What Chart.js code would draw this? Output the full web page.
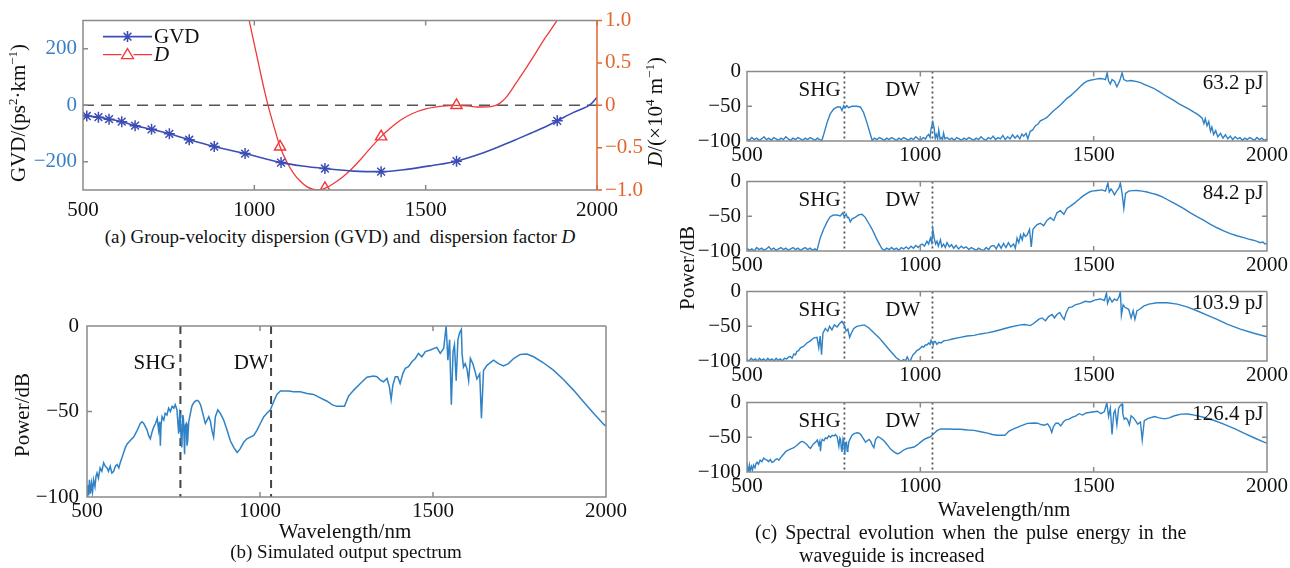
<!DOCTYPE html>
<html>
<head>
<meta charset="utf-8">
<script src="https://cdn.jsdelivr.net/npm/chart.js@4.4.1/dist/chart.umd.min.js"></script>
<style>
    body { margin: 0; width: 1290px; height: 568px; overflow: hidden; position: relative; background: #fff;
           font-family: 'Liberation Serif', 'Times New Roman', serif; color: #111; }
    canvas { position: absolute; }
    .t { position: absolute; white-space: nowrap; line-height: 1; transform: translate(-50%, -50%); }
    .r { transform: translate(-50%, -50%) rotate(-90deg); }
    .l { position: absolute; white-space: nowrap; line-height: 1; transform: translateY(-50%); }
    sup { font-size: 0.62em; vertical-align: 0.6em; line-height: 0; }
</style>
</head>
<body>
<canvas id="chartA" width="660" height="225" style="left:0;top:0"></canvas>
<canvas id="chartB" width="660" height="225" style="left:0;top:300px"></canvas>
<canvas id="chartC1" width="610" height="115" style="left:680px;top:53px"></canvas>
<canvas id="chartC2" width="610" height="115" style="left:680px;top:163px"></canvas>
<canvas id="chartC3" width="610" height="115" style="left:680px;top:273px"></canvas>
<canvas id="chartC4" width="610" height="115" style="left:680px;top:384px"></canvas>

<div class="t r" style="left:18px;top:113px;font-size:21px">GVD/(ps<sup>2</sup>·km<sup>−1</sup>)</div>
<div class="t r" style="left:655px;top:112px;font-size:21px"><i>D</i>/(×10<sup>4</sup> m<sup>−1</sup>)</div>
<div class="t" style="left:340px;top:236px;font-size:19px">(a) Group-velocity dispersion (GVD) and&nbsp; dispersion factor <i>D</i></div>

<div class="t r" style="left:22px;top:415px;font-size:21px">Power/dB</div>
<div class="t" style="left:345px;top:531px;font-size:21px">Wavelength/nm</div>
<div class="t" style="left:346px;top:551px;font-size:19px">(b) Simulated output spectrum</div>

<div class="t r" style="left:687px;top:268px;font-size:21px">Power/dB</div>
<div class="t" style="left:1004px;top:509px;font-size:21px">Wavelength/nm</div>
<div class="l" style="left:755px;top:532px;font-size:20px;word-spacing:3px">(c) Spectral evolution when the pulse energy in the</div>
<div class="l" style="left:799px;top:555px;font-size:20px">waveguide is increased</div>

<script>
// ---- data ----
const wlTicks = [500, 1000, 1500, 2000];
const gvdTicks = [-200, 0, 200];
const dTicks = [-1, -0.5, 0, 0.5, 1];
const powTicks = [-100, -50, 0];

// GVD (ps^2/km) vs wavelength (nm)
const gvdCurve = [[500,-35],[511,-38],[545,-42],[576,-49],[613,-58],[652,-72],[700,-85],[752,-101],[810,-122],
    [883,-146],[973,-171],[1078,-203],[1140,-215],[1206,-224],[1290,-233],[1370,-235],[1450,-226],[1520,-213],
    [1590,-198],[1660,-172],[1717,-145],[1770,-118],[1814,-95],[1850,-76],[1884,-55],[1930,-26],[1982,4],[2000,28]];
const gvdMarks = [[511,-38],[545,-42],[576,-49],[613,-58],[652,-72],[700,-85],[752,-101],[810,-122],[883,-146],
    [973,-171],[1078,-203],[1206,-224],[1370,-235],[1590,-198],[1884,-55]];

// D (x10^4 m^-1)
const dCurve = [[955,1.5],[975,1.18],[985,1.0],[1000,0.72],[1015,0.44],[1028,0.2],[1040,0],[1058,-0.26],[1075,-0.49],
    [1095,-0.67],[1114,-0.8],[1135,-0.9],[1153,-0.96],[1170,-0.99],[1185,-1.0],[1206,-0.98],[1240,-0.9],[1274,-0.79],
    [1310,-0.64],[1340,-0.5],[1370,-0.37],[1400,-0.26],[1425,-0.18],[1460,-0.1],[1503,-0.04],[1550,-0.01],[1590,0],
    [1630,-0.01],[1650,-0.02],[1690,-0.015],[1715,0.02],[1736,0.1],[1765,0.27],[1795,0.45],[1820,0.61],[1843,0.76],
    [1865,0.89],[1883,1.0],[1900,1.12]];
const dMarks = [[1075,-0.49],[1206,-0.98],[1370,-0.37],[1590,0]];

// spectra, dB vs nm
const spec632 = [[500,-97],[507,-99],[514,-95],[521,-98],[528,-96],[535,-99],[542,-97],[549,-94],[556,-98],[563,-96],
    [570,-99],[577,-95],[584,-97],[591,-99],[598,-96],[605,-98],[612,-94],[619,-97],[626,-99],[633,-96],[640,-98],
    [647,-95],[654,-97],[661,-99],[668,-96],[675,-98],[682,-95],[689,-97],[696,-99],[703,-96],[710,-98],[716,-99],
    [721,-91],[731,-73.5],[740,-61],[750,-54],[760,-51],[769,-51],[774,-56],[779,-49],[784,-52],[788,-49],[793,-52],
    [803,-50],[817,-50],[827,-51],[836,-58.5],[846,-73.5],[856,-90.6],[861,-99],[868,-96],[875,-98],[882,-95],
    [889,-97],[896,-99],[903,-96],[910,-98],[917,-95],[924,-97],[931,-99],[938,-96],[945,-98],[952,-95],[959,-97],
    [966,-99],[973,-96],[980,-98],[987,-94],[994,-97],[1001,-99],[1008,-95],[1015,-97],[1019,-93],[1024,-90.6],
    [1028,-95],[1031,-82],[1036,-72.6],[1040,-82],[1043,-96],[1046,-90.6],[1050,-97],[1053,-84],[1057,-97],
    [1060,-95],[1064,-98],[1067,-88.5],[1071,-97],[1077,-95],[1084,-98],[1091,-96],[1098,-99],[1105,-95],
    [1112,-97],[1119,-99],[1126,-96],[1133,-98],[1140,-95],[1147,-97],[1154,-99],[1161,-96],[1168,-98],[1175,-94],
    [1182,-97],[1189,-99],[1196,-95],[1203,-97],[1210,-93],[1217,-98],[1224,-95],[1231,-97],[1238,-92],[1245,-98],
    [1252,-94],[1259,-97],[1266,-91],[1273,-96],[1280,-92],[1287,-97],[1293,-90],[1298,-93],[1305,-89],[1310,-97],
    [1317,-86],[1324,-84],[1332,-78],[1339,-76],[1346,-71],[1355,-69],[1365,-66],[1375,-61],[1385,-56],[1395,-52],
    [1404,-48],[1414,-43],[1423,-38.5],[1433,-35],[1442,-31],[1452,-26],[1462,-21],[1471,-17],[1481,-13.7],
    [1490,-12.5],[1500,-11.5],[1510,-10.5],[1519,-10],[1527,-10.5],[1534,-11.5],[1539,-1.7],[1543,-13.7],
    [1548,-18],[1553,-11.5],[1560,-13.7],[1567,-22],[1575,-13.7],[1582,-1.7],[1587,-11.5],[1596,-13.7],
    [1606,-12.8],[1615,-13.5],[1625,-14.5],[1635,-16],[1644,-18],[1658,-21],[1673,-24],[1688,-28.5],[1702,-33],
    [1716,-37],[1731,-41.5],[1745,-46],[1760,-50],[1775,-54],[1789,-58.5],[1801,-62],[1813,-67],[1818,-75],
    [1822,-68],[1827,-78],[1832,-72],[1837,-86],[1841,-80],[1846,-90.6],[1852,-85],[1858,-94],[1866,-89],
    [1873,-96],[1880,-91],[1887,-97],[1894,-93],[1901,-98],[1908,-94],[1915,-97],[1922,-95],[1929,-99],[1936,-96],
    [1943,-98],[1950,-95],[1957,-97],[1964,-99],[1971,-95],[1978,-98],[1985,-96],[1992,-99],[2000,-97]];

const spec842 = [[500,-96],[507,-99],[514,-97],[521,-100],[528,-95],[535,-98],[542,-96],[549,-99],[556,-97],[563,-94],
    [570,-98],[577,-96],[584,-99],[591,-97],[598,-95],[605,-98],[612,-96],[619,-99],[626,-97],[633,-95],[640,-98],
    [647,-96],[654,-99],[661,-97],[668,-95],[675,-98],[682,-96],[689,-99],[696,-97],[702,-99],[711,-81.5],
    [721,-68.7],[731,-58],[740,-50.6],[748,-48.5],[755,-48],[762,-48.5],[769,-49.4],[776,-45],[781,-50.6],
    [786,-47],[790,-52],[793,-51.5],[798,-58],[803,-53.6],[812,-51.5],[822,-48],[832,-47],[841,-51.5],[851,-60],
    [861,-68.7],[868,-76],[875,-83.7],[882,-90],[889,-96.6],[896,-99],[903,-96],[910,-98],[917,-95],[924,-98],
    [931,-96],[938,-99],[945,-95],[952,-97],[959,-94],[966,-97],[973,-93],[980,-96],[987,-92],[994,-95],[1001,-91],
    [1005,-90],[1012,-93],[1019,-86],[1024,-90],[1029,-81.5],[1033,-88],[1036,-68.7],[1040,-81.5],[1044,-90],
    [1048,-86],[1052,-93],[1058,-83.7],[1062,-94],[1067,-90],[1072,-95],[1077,-88],[1084,-94],[1090,-91],[1096,-96],
    [1103,-92],[1110,-97],[1118,-93],[1125,-96],[1132,-94],[1140,-98],[1147,-95],[1154,-97],[1161,-99],[1168,-96],
    [1175,-98],[1183,-99],[1190,-95],[1197,-98],[1204,-93],[1212,-92],[1219,-97],[1226,-90],[1233,-96],[1240,-89],
    [1247,-95],[1254,-88],[1261,-94],[1269,-90],[1274,-96],[1279,-81.5],[1284,-88],[1289,-77],[1294,-84],[1298,-75],
    [1303,-79],[1308,-77],[1315,-68.7],[1320,-94],[1325,-68.7],[1331,-65],[1337,-62],[1346,-60],[1356,-63.5],
    [1365,-56],[1375,-52],[1385,-56],[1394,-45],[1404,-42],[1414,-47],[1423,-38.6],[1431,-36],[1438,-33.5],
    [1445,-31],[1452,-28],[1459,-25],[1466,-22],[1473,-19.5],[1481,-17],[1488,-15],[1495,-13.7],[1510,-12.9],
    [1524,-12],[1534,-13.7],[1541,-2],[1545,-15],[1550,-10.7],[1555,-14],[1560,-19],[1567,-12.9],[1573,-9],
    [1577,-2],[1582,-17],[1587,-38.6],[1592,-17],[1601,-13.7],[1612,-13],[1625,-12.9],[1640,-13.8],[1654,-15],
    [1668,-17],[1683,-19],[1698,-22],[1712,-25.8],[1726,-29.5],[1741,-33.5],[1760,-39],[1779,-45],[1798,-50.5],
    [1818,-56],[1837,-61.5],[1856,-66.5],[1875,-71],[1894,-75],[1913,-78],[1933,-80.7],[1952,-83.5],[1965,-85],
    [1971,-86],[1980,-88],[1988,-87],[1994,-90],[2000,-89]];

const spec1039 = [[500,-98],[506,-100],[512,-96],[518,-99],[524,-97],[530,-100],[536,-96],[542,-99],[548,-97],
    [554,-100],[560,-96],[566,-99],[572,-97],[578,-100],[584,-96],[590,-99],[596,-97],[602,-100],[608,-96],
    [615,-97],[620,-94],[625,-93.5],[630,-96],[635,-90],[640,-91],[644,-86],[649,-85],[654,-81],[663,-79],
    [673,-74],[683,-71],[692,-67],[702,-66],[707,-81],[711,-64],[715,-91],[719,-60],[726,-53],[733,-57],[738,-50],
    [745,-55],[752,-48],[760,-51],[767,-46],[774,-43],[781,-49],[786,-57],[791,-54],[796,-66],[801,-60],[808,-53],
    [817,-50],[827,-49],[838,-48],[851,-52],[865,-59],[880,-66],[894,-74],[909,-83],[923,-91],[930,-95],[938,-98],
    [945,-100],[952,-98],[957,-100],[962,-94],[967,-99],[971,-100],[975,-95],[979,-91],[985,-88],[990,-85],
    [997,-83],[1005,-79],[1010,-80],[1014,-77],[1019,-77],[1024,-74],[1028,-76],[1031,-70],[1034,-73],[1037,-77],
    [1040,-72],[1043,-72],[1048,-76],[1053,-73],[1060,-74],[1067,-71],[1080,-70],[1096,-68],[1115,-66],[1135,-64],
    [1155,-63],[1173,-61],[1193,-59.5],[1212,-57.5],[1231,-55],[1260,-51],[1289,-48],[1300,-47.5],[1308,-48],
    [1317,-49],[1327,-46],[1341,-40],[1351,-38],[1361,-42],[1370,-36],[1380,-33],[1387,-38],[1394,-33],[1402,-30],
    [1409,-36],[1415,-40],[1421,-30],[1428,-23],[1438,-22],[1447,-19],[1462,-17],[1476,-14],[1490,-15],[1505,-12],
    [1519,-10.6],[1531,-12.8],[1537,-2],[1540,-17],[1546,-8.5],[1553,-15],[1560,-10.6],[1567,-12.8],[1573,-7.7],
    [1577,0],[1580,-34],[1585,-19],[1591,-23],[1601,-25.5],[1608,-38],[1614,-27.6],[1619,-40],[1625,-27.6],
    [1635,-24.7],[1644,-21],[1659,-18],[1683,-16],[1712,-16],[1741,-18],[1769,-22],[1798,-27.6],[1827,-34],
    [1856,-40],[1885,-47],[1923,-54],[1962,-60],[2000,-65]];

// 126.4 pJ spectrum, shown both in (b) and in the last row of (c)
const spec1264 = [[500,-100],[502,-93],[505,-99],[507,-90],[510,-98],[513,-92],[516,-97],[519,-90],[523,-94],[526,-88],
    [529,-86],[533,-89],[538,-83],[543,-85],[548,-80],[553,-82],[558,-83],[562,-85],[567,-82],[572,-86],[577,-85],
    [582,-82],[587,-81],[592,-83],[596,-80],[601,-77],[606,-74],[611,-71],[616,-69],[625,-67],[635,-65],[645,-61],
    [654,-57],[659,-56],[664,-57],[669,-59],[674,-61],[678,-64],[683,-66],[688,-62],[693,-59],[698,-57],[703,-54],
    [707,-61],[710,-56],[712,-70],[714,-58],[717,-53],[722,-55],[726,-51],[731,-52],[736,-48],[741,-50],[746,-47],
    [751,-48],[755,-46],[760,-49],[765,-63],[768,-51],[770,-53],[772,-66],[774,-71],[777,-52],[779,-55],[782,-75],
    [784,-58],[787,-57],[789,-70],[791,-67],[794,-56],[797,-53],[803,-47],[808,-45],[813,-44],[818,-43.5],[823,-44],
    [828,-46],[832,-49],[837,-53],[842,-57],[847,-55],[852,-53],[857,-56],[861,-61],[866,-65],[871,-53],[878,-49],
    [885,-51],[890,-53],[895,-55],[905,-61],[914,-67],[924,-71],[934,-74],[942,-72],[953,-68],[962,-66],[972,-65],
    [982,-64],[991,-61],[1001,-57],[1011,-53],[1020,-51],[1030,-49],[1040,-44],[1049,-40],[1059,-38],[1068,-38],
    [1083,-38],[1097,-38.5],[1116,-38.5],[1136,-39.5],[1155,-40],[1174,-42],[1194,-44],[1208,-46],[1222,-47],
    [1232,-47],[1244,-47],[1256,-41],[1271,-37.5],[1290,-33.6],[1309,-30],[1328,-29.3],[1338,-29.7],[1348,-31.6],
    [1357,-32.6],[1367,-30.7],[1374,-35.5],[1379,-43],[1384,-34.6],[1391,-29.7],[1398,-29.7],[1405,-33.6],
    [1413,-27.7],[1420,-24.8],[1429,-23.8],[1439,-20.9],[1449,-19],[1458,-16],[1468,-18],[1478,-15],[1492,-14],
    [1511,-12.5],[1521,-16],[1531,-13],[1538,0],[1543,-20],[1548,-8],[1553,-46],[1558,-15],[1562,-11],[1567,-32],
    [1572,-8],[1577,-4],[1582,-2],[1584,-16],[1588,-24],[1593,-22],[1598,-25],[1603,-32],[1608,-19],[1615,-22],
    [1622,-27],[1627,-31],[1635,-28],[1640,-54],[1646,-26],[1656,-23],[1675,-20],[1689,-22],[1704,-23.4],
    [1718,-22],[1733,-19],[1752,-16.6],[1771,-16.4],[1791,-18],[1819,-21.5],[1848,-25.8],[1877,-31.3],
    [1906,-37.5],[1935,-44.3],[1964,-51],[1993,-57.4],[2000,-58.5]];

const markB = [770, 1032];   // SHG, DW positions in (b)
const markC = [781, 1035];   // SHG, DW positions in (c)
const energies = ['63.2 pJ', '84.2 pJ', '103.9 pJ', '126.4 pJ'];

// ---- styling ----
const FONT = "'Liberation Serif', 'Times New Roman', serif";
const FS = 21;
const SPEC_BLUE = '#2f82c6';
const GVD_BLUE = '#3c4db5';
const D_RED = '#f03a3a';
const TICK_BLUE = '#3a7fc6';
const TICK_ORANGE = '#e2672f';
const FRAME = '#8a8a8a';

const pts = arr => arr.map(([x, y]) => ({ x, y }));
const fmt = v => (v === 0 ? '0' : String(v).replace('-', '\u2212'));
const fixTicks = list => s => { s.ticks = list.map(v => ({ value: v })); };

// frame, inward ticks, notes and legend drawn on top of the data
const framePlugin = {
    id: 'frame',
    afterDatasetsDraw(chart, args, opts) {
        const { ctx, chartArea: a, scales } = chart;
        const yLeft = scales.y;
        const yRight = scales.y1 || scales.y;
        ctx.save();
        ctx.lineWidth = 1.5;
        ctx.strokeStyle = FRAME;
        ctx.beginPath();
        ctx.moveTo(a.right, a.top); ctx.lineTo(a.left, a.top);
        ctx.lineTo(a.left, a.bottom); ctx.lineTo(a.right, a.bottom);
        if (!opts.rightColor) ctx.lineTo(a.right, a.top);
        scales.x.ticks.forEach(t => {
            const px = scales.x.getPixelForValue(t.value);
            ctx.moveTo(px, a.bottom); ctx.lineTo(px, a.bottom - 5);
            ctx.moveTo(px, a.top); ctx.lineTo(px, a.top + 5);
        });
        yLeft.ticks.forEach(t => {
            const py = yLeft.getPixelForValue(t.value);
            ctx.moveTo(a.left, py); ctx.lineTo(a.left + 5, py);
            if (!opts.rightColor) { ctx.moveTo(a.right, py); ctx.lineTo(a.right - 5, py); }
        });
        ctx.stroke();

        if (opts.rightColor) {
            ctx.strokeStyle = opts.rightColor;
            ctx.beginPath();
            ctx.moveTo(a.right, a.top); ctx.lineTo(a.right, a.bottom);
            yRight.ticks.forEach(t => {
                const py = yRight.getPixelForValue(t.value);
                ctx.moveTo(a.right, py); ctx.lineTo(a.right + 5, py);
            });
            ctx.stroke();
        }

        ctx.fillStyle = '#111';
        ctx.font = FS + 'px ' + FONT;
        ctx.textBaseline = 'middle';
        (opts.notes || []).forEach(n => {
            ctx.textAlign = n.align || 'right';
            ctx.fillText(n.text, scales.x.getPixelForValue(n.x), yLeft.getPixelForValue(n.y));
        });

        if (opts.legend) {
            const x0 = a.left + 20, x1 = a.left + 69, xm = (x0 + x1) / 2;
            const y0 = a.top + 16, y1 = a.top + 34;
            ctx.lineWidth = 1.6;
            ctx.strokeStyle = GVD_BLUE;
            ctx.beginPath();
            ctx.moveTo(x0, y0); ctx.lineTo(x1, y0);
            for (let k = 0; k < 4; k++) {
                const ang = k * Math.PI / 4;
                ctx.moveTo(xm - 5.5 * Math.cos(ang), y0 - 5.5 * Math.sin(ang));
                ctx.lineTo(xm + 5.5 * Math.cos(ang), y0 + 5.5 * Math.sin(ang));
            }
            ctx.stroke();
            ctx.strokeStyle = D_RED;
            ctx.lineWidth = 1.3;
            ctx.beginPath();
            ctx.moveTo(x0, y1); ctx.lineTo(xm - 6, y1);
            ctx.moveTo(xm + 6, y1); ctx.lineTo(x1, y1);
            ctx.moveTo(xm, y1 - 6); ctx.lineTo(xm + 6, y1 + 4); ctx.lineTo(xm - 6, y1 + 4); ctx.closePath();
            ctx.stroke();
            ctx.textAlign = 'left';
            ctx.fillStyle = '#111';
            ctx.fillText('GVD', x1 + 2, y0 + 1);
            ctx.font = 'italic ' + FS + 'px ' + FONT;
            ctx.fillText('D', x1 + 2, y1 + 1);
        }
        ctx.restore();
    }
};

function xScale(labelPad, height) {
    return {
        type: 'linear', min: 500, max: 2000,
        afterBuildTicks: fixTicks(wlTicks),
        afterFit: s => { s.height = height; },
        grid: { display: false, drawTicks: false },
        border: { display: false },
        ticks: { padding: labelPad, color: '#111', font: { family: FONT, size: FS }, maxRotation: 0,
                 callback: v => String(v) }
    };
}

function yScale(min, max, list, width, color, position, pad, format) {
    return {
        type: 'linear', min, max, position,
        afterBuildTicks: fixTicks(list),
        afterFit: s => { s.width = width; },
        grid: { display: false, drawTicks: false },
        border: { display: false },
        ticks: { padding: pad, color, font: { family: FONT, size: FS }, callback: format || fmt }
    };
}

function lineSet(data, color, width, extra = {}) {
    return Object.assign({
        data: pts(data), showLine: true, borderColor: color, borderWidth: width,
        pointRadius: 0, fill: false, tension: 0
    }, extra);
}

function baseOptions(scales, padding, frame) {
    return {
        responsive: false, animation: false, devicePixelRatio: 1,
        layout: { padding },
        scales,
        plugins: { legend: { display: false }, tooltip: { enabled: false }, frame }
    };
}

// ---- (a) GVD and D ----
new Chart(document.getElementById('chartA'), {
    type: 'scatter',
    data: {
        datasets: [
            lineSet(gvdCurve, GVD_BLUE, 1.6, { yAxisID: 'y', cubicInterpolationMode: 'monotone' }),
            { data: pts(gvdMarks), yAxisID: 'y', pointStyle: 'star', pointRadius: 5.5, borderColor: GVD_BLUE,
              pointBorderWidth: 1.5, showLine: false },
            lineSet(dCurve, D_RED, 1.3, { yAxisID: 'y1', cubicInterpolationMode: 'monotone' }),
            { data: pts(dMarks), yAxisID: 'y1', pointStyle: 'triangle', pointRadius: 6.5, borderColor: D_RED,
              backgroundColor: 'rgba(255,255,255,0)', pointBorderWidth: 1.4, showLine: false },
            lineSet([[500, 0], [2000, 0]], '#555', 1.6, { yAxisID: 'y', borderDash: [11, 7] })
        ]
    },
    options: baseOptions({
        x: xScale(8, 35),
        y: yScale(-300, 300, gvdTicks, 83, TICK_BLUE, 'left', 6),
        y1: yScale(-1, 1, dTicks, 63, TICK_ORANGE, 'right', 8,
            v => (v === 0 ? '0' : v.toFixed(1).replace('-', '\u2212')))
    }, { top: 20 }, { rightColor: TICK_ORANGE, legend: true }),
    plugins: [framePlugin]
});

// ---- (b) output spectrum ----
new Chart(document.getElementById('chartB'), {
    type: 'scatter',
    data: {
        datasets: [
            lineSet(spec1264, SPEC_BLUE, 1.5),
            lineSet([[markB[0], 0], [markB[0], -100]], '#444', 2, { borderDash: [8, 6] }),
            lineSet([[markB[1], 0], [markB[1], -100]], '#444', 2, { borderDash: [8, 6] })
        ]
    },
    options: baseOptions({
        x: xScale(2, 28),
        y: yScale(-100, 0, powTicks, 87, '#111', 'left', 8)
    }, { top: 26, right: 54 }, {
        notes: [{ text: 'SHG', x: 756, y: -21.7 }, { text: 'DW', x: 1025, y: -21.7 }]
    }),
    plugins: [framePlugin]
});

// ---- (c) spectral evolution ----
[spec632, spec842, spec1039, spec1264].forEach((spec, i) => {
    new Chart(document.getElementById('chartC' + (i + 1)), {
        type: 'scatter',
        data: {
            datasets: [
                lineSet(spec, SPEC_BLUE, 1.4),
                lineSet([[markC[0], 0], [markC[0], -100]], '#555', 1.8, { borderDash: [2, 3] }),
                lineSet([[markC[1], 0], [markC[1], -100]], '#555', 1.8, { borderDash: [2, 3] })
            ]
        },
        options: baseOptions({
            x: xScale(2, 27),
            y: yScale(-100, 0, powTicks, 67, '#111', 'left', 6)
        }, { top: 10, right: 23 }, {
            notes: [
                { text: 'SHG', x: 770, y: -27 },
                { text: 'DW', x: 1000, y: -27 },
                { text: energies[i], x: 1990, y: -17 }
            ]
        }),
        plugins: [framePlugin]
    });
});
</script>
</body>
</html>
